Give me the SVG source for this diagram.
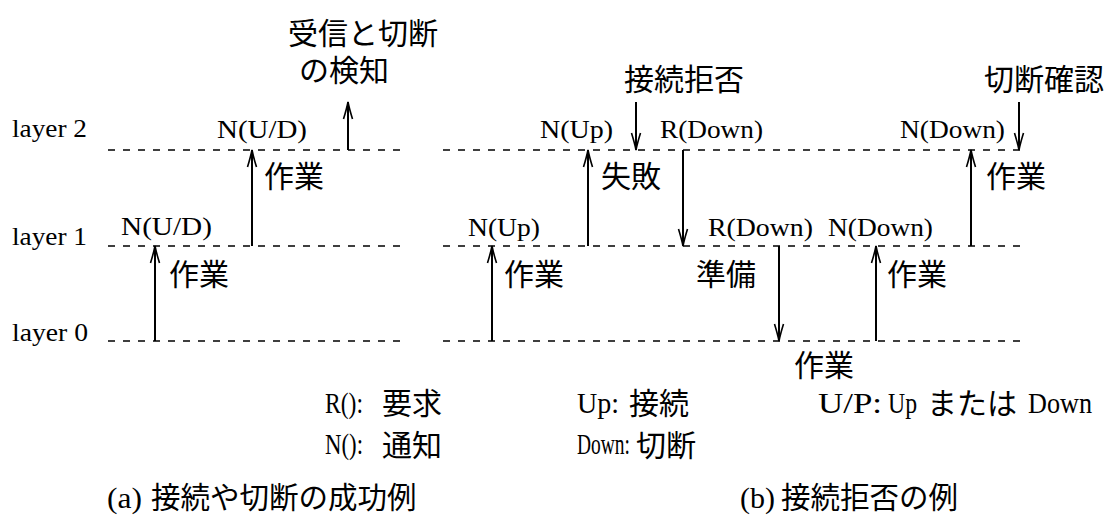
<svg xmlns="http://www.w3.org/2000/svg" width="1107" height="515" viewBox="0 0 1107 515">
<style>
.s{font-family:"Liberation Serif",serif;font-size:26px;fill:#000}
.l{font-family:"Liberation Serif",serif;font-size:29px;fill:#000}
.j{font-family:"Noto Sans CJK JP",sans-serif;font-size:30px;fill:#000}
.c{font-family:"Noto Sans CJK JP",sans-serif;font-size:29.5px;fill:#000}
.d{stroke:#000;stroke-width:1.3;stroke-dasharray:7 8;fill:none}
.a{stroke:#000;stroke-width:2;fill:none;marker-end:url(#ah)}
</style>
<defs>
<marker id="ah" markerUnits="userSpaceOnUse" markerWidth="20" markerHeight="20" refX="18" refY="10" orient="auto" overflow="visible">
<path d="M1,5.5 Q11,8.6 18,10 Q11,11.4 1,14.5" fill="none" stroke="#000" stroke-width="1.6"/>
</marker>
</defs>
<rect width="1107" height="515" fill="#fff"/>
<g id="layers">
<text class="s" x="12" y="137" textLength="75" lengthAdjust="spacingAndGlyphs">layer 2</text>
<text class="s" x="12" y="245" textLength="75" lengthAdjust="spacingAndGlyphs">layer 1</text>
<text class="s" x="12" y="341" textLength="76" lengthAdjust="spacingAndGlyphs">layer 0</text>
<line class="d" x1="108" y1="150" x2="402" y2="150"/>
<line class="d" x1="108" y1="246" x2="402" y2="246"/>
<line class="d" x1="108" y1="341" x2="402" y2="341"/>
<line class="d" x1="443" y1="150" x2="1022" y2="150"/>
<line class="d" x1="443" y1="246" x2="1022" y2="246"/>
<line class="d" x1="443" y1="341" x2="1022" y2="341"/>
</g>
<g id="connectors">
<line class="a" x1="155" y1="341" x2="155" y2="246"/>
<line class="a" x1="252" y1="246" x2="252" y2="150"/>
<line class="a" x1="348" y1="150" x2="348" y2="102"/>
<line class="a" x1="492" y1="341" x2="492" y2="246"/>
<line class="a" x1="588" y1="246" x2="588" y2="150"/>
<line class="a" x1="636" y1="102" x2="636" y2="150"/>
<line class="a" x1="683" y1="150" x2="683" y2="246"/>
<line class="a" x1="779" y1="246" x2="779" y2="341"/>
<line class="a" x1="876" y1="341" x2="876" y2="246"/>
<line class="a" x1="971" y1="246" x2="971" y2="150"/>
<line class="a" x1="1019" y1="102" x2="1019" y2="150"/>
</g>
<g id="diagram-a">
<text class="s" x="121" y="235" textLength="91" lengthAdjust="spacingAndGlyphs">N(U/D)</text>
<text class="j" x="169" y="285">作業</text>
<text class="s" x="217" y="138" textLength="90" lengthAdjust="spacingAndGlyphs">N(U/D)</text>
<text class="j" x="264" y="187">作業</text>
<text class="j" x="288" y="44">受信と切断</text>
<text class="j" x="299" y="81">の検知</text>
</g>
<g id="diagram-b">
<text class="s" x="468" y="236" textLength="72" lengthAdjust="spacingAndGlyphs">N(Up)</text>
<text class="j" x="504" y="285">作業</text>
<text class="s" x="540" y="138" textLength="73" lengthAdjust="spacingAndGlyphs">N(Up)</text>
<text class="j" x="601" y="187">失敗</text>
<text class="j" x="624" y="90">接続拒否</text>
<text class="s" x="660" y="138" textLength="103" lengthAdjust="spacingAndGlyphs">R(Down)</text>
<text class="j" x="696" y="285">準備</text>
<text class="s" x="708" y="236" textLength="105" lengthAdjust="spacingAndGlyphs">R(Down)</text>
<text class="j" x="794" y="376">作業</text>
<text class="s" x="828" y="236" textLength="105" lengthAdjust="spacingAndGlyphs">N(Down)</text>
<text class="j" x="887" y="285">作業</text>
<text class="s" x="900" y="138" textLength="105" lengthAdjust="spacingAndGlyphs">N(Down)</text>
<text class="j" x="986" y="187">作業</text>
<text class="j" x="984" y="90">切断確認</text>
</g>
<g id="legend">
<text class="l" x="325" y="413" textLength="38" lengthAdjust="spacingAndGlyphs">R():</text>
<text class="j" x="382" y="414">要求</text>
<text class="l" x="325" y="454" textLength="38" lengthAdjust="spacingAndGlyphs">N():</text>
<text class="j" x="382" y="456">通知</text>
<text class="l" x="577" y="413" textLength="42" lengthAdjust="spacingAndGlyphs">Up:</text>
<text class="j" x="629" y="414">接続</text>
<text class="l" x="577" y="454" textLength="53" lengthAdjust="spacingAndGlyphs">Down:</text>
<text class="j" x="636" y="456">切断</text>
<text class="l" x="818" y="413" textLength="64" lengthAdjust="spacingAndGlyphs">U/P:</text>
<text class="l" x="888" y="413" textLength="29" lengthAdjust="spacingAndGlyphs">Up</text>
<text class="j" x="927" y="414">または</text>
<text class="l" x="1028" y="413" textLength="64" lengthAdjust="spacingAndGlyphs">Down</text>
</g>
<g id="captions">
<text class="l" x="107" y="508" textLength="35" lengthAdjust="spacingAndGlyphs">(a)</text>
<text class="c" x="151" y="508">接続や切断の成功例</text>
<text class="l" x="740" y="508" textLength="35" lengthAdjust="spacingAndGlyphs">(b)</text>
<text class="c" x="781" y="508">接続拒否の例</text>
</g>
</svg>
